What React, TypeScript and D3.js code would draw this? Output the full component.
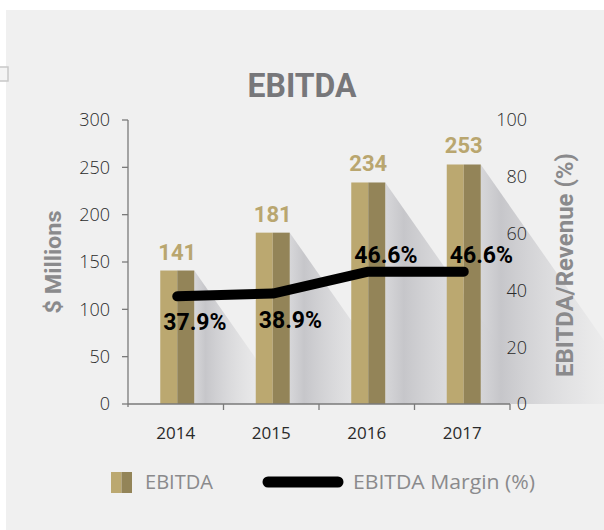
import React from "react";
import * as d3 from "d3";

// chart values
const years = ["2014", "2015", "2016", "2017"];
const ebitda = [141, 181, 234, 253];
const marginPct = [37.9, 38.9, 46.6, 46.6];
const leftTicks = [0, 50, 100, 150, 200, 250, 300];
const rightTicks = [0, 20, 40, 60, 80, 100];

const W = 604;
const H = 530;
const plot = { left: 128, right: 510, top: 120, bottom: 404 };

const gold = "#bba870";
const goldDark = "#938458";
const labelGold = "#b9a66f";
const grey = "#8a8a8c";

function App() {
  const x = d3.scaleBand().domain(years).range([plot.left, plot.right]);
  const yL = d3.scaleLinear().domain([0, 300]).range([plot.bottom, plot.top]);
  const yR = d3.scaleLinear().domain([0, 100]).range([plot.bottom, plot.top]);
  const barW = 34;
  const cx = (d: string) => (x(d) as number) + x.bandwidth() / 2 + 1.5;

  const line = d3
    .line<number>()
    .x((_, i) => cx(years[i]))
    .y(d => yR(d));

  const sans = "Roboto, 'Noto Sans', sans-serif";
  const light = "'Open Sans', 'Noto Sans', sans-serif";

  return (
    <svg
      width={W}
      height={H}
      style={{ position: "absolute", left: 0, top: 0, display: "block" }}
    >
      <defs>
        <linearGradient id="shadow" x1="0" y1="0" x2="1" y2="0">
          <stop offset="0" stopColor="#d2d2d5" stopOpacity={0.85} />
          <stop offset="0.12" stopColor="#c4c4c8" stopOpacity={0.95} />
          <stop offset="0.6" stopColor="#dcdcde" stopOpacity={0.5} />
          <stop offset="1" stopColor="#f0f0f0" stopOpacity={0} />
        </linearGradient>
      </defs>
      <rect x={0} y={0} width={W} height={H} fill="#ffffff" />
      <rect x={6} y={10} width={W - 6} height={H - 10} fill="#f0f0f0" />
      <rect x={-6} y={67} width={14} height={14} fill="#f4f4f4" stroke="#c8c8c8" strokeWidth={1.5} />

      <text
        x={302}
        y={97}
        textAnchor="middle"
        fontFamily={sans}
        fontWeight={700}
        fontSize={34}
        fill="#77777a"
        textLength={109}
        lengthAdjust="spacingAndGlyphs"
      >
        EBITDA
      </text>

      {/* bar shadows */}
      {ebitda.map((v, i) => {
        const r = cx(years[i]) + barW / 2;
        const t = yL(v);
        const h = plot.bottom - t;
        return (
          <polygon
            key={"s" + i}
            points={`${r},${t} ${r + 0.7 * h},${plot.bottom} ${r},${plot.bottom}`}
            fill="url(#shadow)"
          />
        );
      })}

      {/* bars */}
      {ebitda.map((v, i) => {
        const c = cx(years[i]);
        const t = yL(v);
        return (
          <g key={"b" + i}>
            <rect x={c - barW / 2} y={t} width={barW / 2} height={plot.bottom - t} fill={gold} />
            <rect x={c} y={t} width={barW / 2} height={plot.bottom - t} fill={goldDark} />
            <text
              x={c}
              y={t - 11}
              textAnchor="middle"
              fontFamily={sans}
              fontWeight={700}
              fontSize={22}
              fill={labelGold}
            >
              {v}
            </text>
          </g>
        );
      })}

      {/* left axis */}
      <line x1={plot.left} x2={plot.left} y1={plot.top} y2={plot.bottom + 3} stroke="#7a7a7a" strokeWidth={1.3} />
      {leftTicks.map(t => (
        <g key={"l" + t}>
          <line x1={plot.left - 6} x2={plot.left} y1={yL(t)} y2={yL(t)} stroke="#7a7a7a" strokeWidth={1.3} />
          <text
            x={110}
            y={yL(t)}
            dy="0.35em"
            textAnchor="end"
            fontFamily={light}
            fontWeight={300}
            fontSize={18}
            fill="#2a2a2a"
          >
            {t}
          </text>
        </g>
      ))}

      {/* right axis labels */}
      {rightTicks.map(t => (
        <text
          key={"r" + t}
          x={527}
          y={yR(t)}
          dy="0.35em"
          textAnchor="end"
          fontFamily={light}
          fontWeight={300}
          fontSize={18}
          fill="#2a2a2a"
        >
          {t}
        </text>
      ))}

      {/* x axis */}
      <line x1={plot.left} x2={plot.right} y1={plot.bottom} y2={plot.bottom} stroke="#7a7a7a" strokeWidth={1.3} />
      {years.map(d => (
        <g key={"x" + d}>
          <line
            x1={(x(d) as number) + x.bandwidth()}
            x2={(x(d) as number) + x.bandwidth()}
            y1={plot.bottom}
            y2={plot.bottom + 6}
            stroke="#7a7a7a"
            strokeWidth={1.3}
          />
          <text
            x={(x(d) as number) + x.bandwidth() / 2}
            y={439}
            textAnchor="middle"
            fontFamily={light}
            fontSize={17}
            fill="#2a2a2a"
          >
            {d}
          </text>
        </g>
      ))}

      {/* axis titles */}
      <text
        transform={`translate(61,262) rotate(-90)`}
        textAnchor="middle"
        fontFamily={sans}
        fontWeight={700}
        fontSize={22}
        fill={grey}
        textLength={103}
        lengthAdjust="spacingAndGlyphs"
      >
        $ Millions
      </text>
      <text
        transform={`translate(573,265) rotate(-90)`}
        textAnchor="middle"
        fontFamily={sans}
        fontWeight={700}
        fontSize={23}
        fill={grey}
        textLength={224}
        lengthAdjust="spacingAndGlyphs"
      >
        EBITDA/Revenue (%)
      </text>

      {/* margin line */}
      <path
        d={line(marginPct) || ""}
        fill="none"
        stroke="#000"
        strokeWidth={10}
        strokeLinecap="round"
        strokeLinejoin="round"
      />
      {marginPct.map((v, i) => (
        <text
          key={"m" + i}
          x={cx(years[i]) - 14}
          y={i < 2 ? yR(v) + 34 : yR(v) - 9}
          fontFamily={sans}
          fontWeight={700}
          fontSize={23}
          fill="#000"
        >
          {v.toFixed(1)}%
        </text>
      ))}

      {/* legend */}
      <rect x={111} y={472} width={10.5} height={21} fill={gold} />
      <rect x={121.5} y={472} width={10.5} height={21} fill={goldDark} />
      <text x={145} y={489} fontFamily={light} fontSize={20} fill={grey} textLength={68} lengthAdjust="spacingAndGlyphs">
        EBITDA
      </text>
      <line x1={268} x2={338} y1={482} y2={482} stroke="#000" strokeWidth={11} strokeLinecap="round" />
      <text x={353} y={489} fontFamily={light} fontSize={20} fill={grey} textLength={182} lengthAdjust="spacingAndGlyphs">
        EBITDA Margin (%)
      </text>
    </svg>
  );
}

export default App;
